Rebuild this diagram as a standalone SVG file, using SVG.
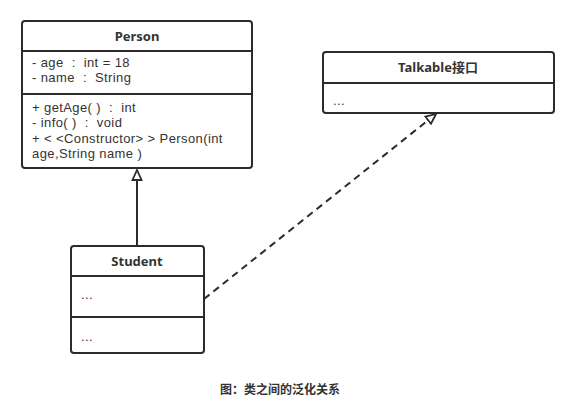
<svg xmlns="http://www.w3.org/2000/svg" width="570" height="410" viewBox="0 0 570 410">
<style>
.box{fill:#fff;stroke:#2b2b2b;stroke-width:2}
.div{stroke:#2b2b2b;stroke-width:2}
.t{font-family:"Liberation Sans","Noto Sans CJK SC",sans-serif;font-size:13px;letter-spacing:0.4px;fill:#333;white-space:pre}
.h{font-family:"Noto Sans","Noto Sans CJK SC",sans-serif;font-size:13px;font-weight:bold;fill:#333;text-anchor:middle}
.c{stroke:#2b2b2b;stroke-width:2;fill:none}
</style>
<defs>
<marker id="tri" viewBox="0 0 12 12" refX="11" refY="6" markerWidth="12" markerHeight="12" markerUnits="userSpaceOnUse" orient="auto">
<path d="M1,1.5 L11,6 L1,10.5 Z" fill="#fff" stroke="#2b2b2b" stroke-width="1.8"/>
</marker>
</defs>
<rect width="570" height="410" fill="#fff"/>
<g id="connectors">
<line class="c" x1="137" y1="246" x2="137" y2="170" marker-end="url(#tri)"/>
<line class="c" x1="204" y1="299" x2="436" y2="114" stroke-dasharray="7,5" marker-end="url(#tri)"/>
</g>
<g id="person">
<rect class="box" x="22" y="21" width="230" height="147" rx="3"/>
<line class="div" x1="22" y1="51" x2="252" y2="51"/>
<line class="div" x1="22" y1="94" x2="252" y2="94"/>
<text class="h" x="137" y="41">Person</text>
<text class="t" x="32" y="67" xml:space="preserve">- age  :  int = 18</text>
<text class="t" x="32" y="82" xml:space="preserve">- name  :  String</text>
<text class="t" x="32" y="112" xml:space="preserve">+ getAge( )  :  int</text>
<text class="t" x="32" y="127" xml:space="preserve">- info( )  :  void</text>
<text class="t" x="32" y="143" xml:space="preserve">+ &lt; &lt;Constructor&gt; &gt; Person(int</text>
<text class="t" x="32" y="158">age,String name )</text>
</g>
<g id="talkable">
<rect class="box" x="323" y="52" width="231" height="61" rx="3"/>
<line class="div" x1="323" y1="83" x2="554" y2="83"/>
<text class="h" x="438" y="72">Talkable<tspan font-family="'Noto Sans CJK SC',sans-serif">接口</tspan></text>
<text class="t" x="333" y="105">...</text>
</g>
<g id="student">
<rect class="box" x="71" y="246" width="133" height="107" rx="3"/>
<line class="div" x1="71" y1="276" x2="204" y2="276"/>
<line class="div" x1="71" y1="317" x2="204" y2="317"/>
<text class="h" x="137" y="266">Student</text>
<text class="t" x="81" y="299">...</text>
<text class="t" x="81" y="341">...</text>
</g>
<text x="280" y="394" font-family="'Noto Sans CJK SC',sans-serif" font-size="12" font-weight="bold" fill="#333" text-anchor="middle">图：类之间的泛化关系</text>
</svg>
